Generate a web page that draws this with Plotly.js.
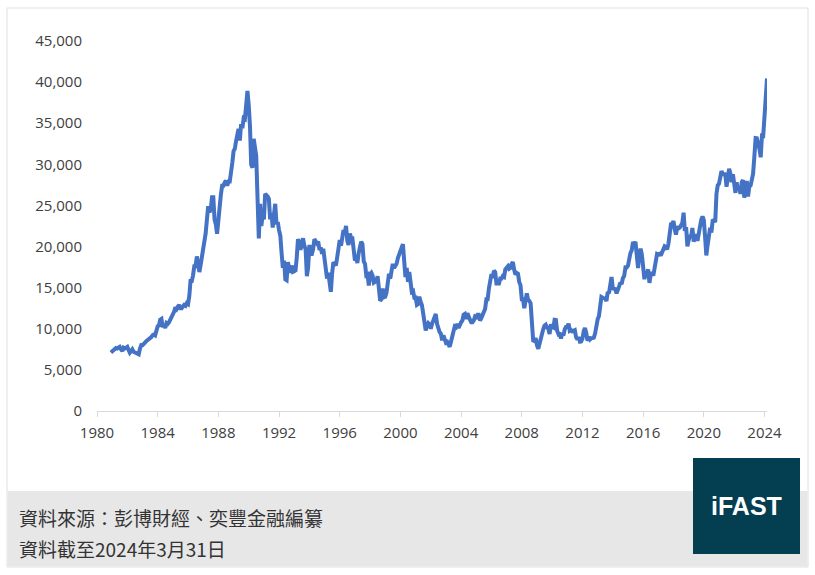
<!DOCTYPE html>
<html>
<head>
<meta charset="utf-8">
<script src="https://cdn.plot.ly/plotly-3.0.1.min.js"></script>
<style>
  body { margin: 0; background: #fff; }
  #chart { width: 815px; height: 575px; }
</style>
</head>
<body>
<div id="chart"></div>
<script>
// Nikkei 225, month-end levels (Dec 1980 - Mar 2024)
let firstMonth = [1980, 12];

let nk1980s = [
  7116,
  7300, 7400, 7600, 7650, 7600, 7700, 7800, 7500, 7300, 7700, 7600, 7681,
  7800, 7400, 7100, 7300, 7500, 7200, 7100, 7000, 6950, 6900, 7600, 8017,
  8000, 8100, 8300, 8500, 8600, 8700, 8900, 9000, 9200, 9300, 9200, 9894,
  10300, 10400, 11100, 11200, 10200, 10500, 10100, 10700, 10600, 10800, 11100, 11543,
  11900, 12100, 12600, 12400, 12700, 12900, 12500, 12500, 12700, 12900, 12800, 13113,
  13000, 14000, 15800, 15800, 16500, 17600, 17600, 18800, 17800, 16900, 17800, 18701,
  20000, 20800, 21600, 23300, 24900, 24200, 24500, 26000, 26000, 23300, 22700, 21564,
  23600, 24900, 26300, 27400, 27400, 27800, 28000, 27400, 27900, 27900, 29600, 30159,
  31600, 31900, 32800, 33700, 34300, 32900, 34900, 34400, 35600, 35500, 37300, 38916
];

let nk1990s = [
  37200, 34600, 29980, 29600, 33100, 31900, 31000, 25900, 20984, 25200, 22500, 23849,
  23300, 26400, 26300, 26100, 25800, 23300, 24100, 22300, 23900, 25200, 22700, 22984,
  22000, 21300, 19300, 17400, 18300, 16000, 15900, 18100, 17400, 16800, 17700, 16925,
  17000, 17100, 18600, 20900, 20500, 19600, 20400, 21000, 20100, 19700, 16400, 17417,
  20200, 19100, 19100, 19700, 20900, 20600, 20400, 20600, 19600, 19900, 19100, 19723,
  18600, 17000, 16100, 16800, 15400, 14500, 16700, 18100, 17900, 17700, 18700, 19868,
  20800, 20100, 21400, 22000, 21700, 22500, 20700, 20200, 21600, 21000, 21000, 19361,
  18300, 18600, 18000, 19200, 20100, 20600, 20300, 18200, 17900, 16500, 16600, 15259,
  16600, 16800, 16500, 15600, 15700, 15800, 16400, 14100, 13400, 13600, 14900, 13842,
  13900, 14400, 15800, 16700, 16100, 17500, 17900, 17400, 17600, 17900, 18600, 18934
];

let nk2000s = [
  19500, 19900, 20300, 17900, 16300, 17400, 15700, 16900, 15700, 14500, 14600, 13786,
  13800, 12900, 13000, 13900, 13300, 12900, 11900, 10700, 9800, 10400, 10700, 10543,
  10000, 10600, 11000, 11500, 11800, 10600, 10000, 9600, 9400, 8600, 9200, 8579,
  8300, 8400, 7970, 7800, 8400, 9100, 9600, 10300, 10200, 10600, 10100, 10677,
  10800, 11000, 11700, 11800, 11200, 11900, 11300, 11100, 10800, 10800, 11000, 11489,
  11400, 11700, 11700, 11000, 11300, 11600, 11900, 12400, 13600, 13600, 14900, 16111,
  16650, 16200, 17060, 16900, 15500, 15500, 15500, 16100, 16100, 16400, 16300, 17226,
  17400, 17600, 17300, 17400, 17900, 18100, 17200, 16600, 16800, 16700, 15700, 15308,
  13600, 13600, 12500, 13800, 14300, 13500, 13400, 13100, 11300, 8580, 8510, 8860,
  7990, 7570, 8110, 8830, 9520, 9960, 10360, 10490, 10130, 10030, 9350, 10550
];

let nk2010s = [
  10200, 10130, 11090, 11060, 9770, 9380, 9540, 8820, 9370, 9200, 9940, 10230,
  10240, 10620, 9760, 9850, 9690, 9820, 9830, 8960, 8700, 8990, 8430, 8460,
  8800, 9720, 10080, 9520, 8540, 9010, 8700, 8840, 8870, 8930, 9450, 10400,
  11140, 11560, 12400, 13860, 13770, 13680, 13670, 13390, 14460, 14330, 15660, 16290,
  14910, 14840, 14830, 14300, 14630, 15160, 15620, 15420, 16170, 16410, 17460, 17450,
  17670, 18800, 19210, 19520, 20560, 20240, 20590, 18890, 17390, 19080, 19750, 19030,
  17520, 16030, 16760, 16670, 17230, 15580, 16570, 16890, 16450, 17430, 18310, 19110,
  19040, 19120, 18910, 19200, 19650, 20030, 19930, 19650, 20360, 22010, 22720, 22760,
  23100, 22070, 21450, 22470, 22200, 22300, 22550, 22870, 24120, 21920, 22350, 20010,
  20770, 21390, 21210, 22260, 20600, 21280, 21520, 20700, 21760, 22930, 23290, 23660
];

let nk2020s = [
  23210, 21140, 18920, 20190, 21880, 22290, 21710, 23140, 23190, 22980, 26430, 27440,
  27660, 28970, 29180, 28810, 28860, 28790, 27280, 28090, 29450, 28890, 27820, 28790,
  27000, 26530, 27820, 26850, 27280, 26390, 27800, 28090, 25940, 27590, 27970, 26090,
  27330, 27450, 28040, 28860, 30890, 33190, 33170, 32620, 31860, 30860, 33490, 33460,
  36290, 39170, 40450
];

let yTicks = [0, 5000, 10000, 15000, 20000, 25000, 30000, 35000, 40000, 45000];
let sourceText = '資料來源：彭博財經、奕豐金融編纂';
let asOfText = '資料截至2024年3月31日';
let logoText = 'iFAST';

let levels = nk1980s.concat(nk1990s, nk2000s, nk2010s, nk2020s);

// one date per month, starting at firstMonth
let dates = [];
let [yr, mo] = firstMonth;
for (let i = 0; i < levels.length; i++) {
  dates.push(yr + '-' + String(mo).padStart(2, '0') + '-01');
  mo++;
  if (mo > 12) { mo = 1; yr++; }
}

// plot area in pixels: left 97, right 767, top 41, bottom 411
function px(x) { return (x - 97) / 670; }
function py(y) { return (411 - y) / 370; }

let trace = {
  x: dates,
  y: levels,
  type: 'scatter',
  mode: 'lines',
  line: { color: '#4472C4', width: 4 },
  hoverinfo: 'skip',
  cliponaxis: false
};

let tickFont = { family: 'Open Sans, Noto Sans, sans-serif', size: 15, color: '#404040' };
let cjk = 'Noto Sans CJK TC, sans-serif';

let layout = {
  width: 815,
  height: 575,
  margin: { l: 97, r: 48, t: 41, b: 164 },
  paper_bgcolor: '#ffffff',
  plot_bgcolor: '#ffffff',
  showlegend: false,
  xaxis: {
    type: 'date',
    range: ['1980-01-01', '2024-03-01'],
    tick0: '1980-01-01',
    dtick: 'M48',
    tickformat: '%Y',
    ticks: 'outside',
    ticklen: 5,
    tickcolor: '#d9d9d9',
    showline: true,
    linecolor: '#d9d9d9',
    linewidth: 1,
    showgrid: false,
    zeroline: false,
    tickfont: tickFont,
    ticklabelstandoff: 3,
    fixedrange: true
  },
  yaxis: {
    range: [0, 45000],
    tickvals: yTicks,
    tickformat: ',d',
    showgrid: false,
    zeroline: false,
    showline: false,
    tickfont: tickFont,
    ticklabelstandoff: 14,
    fixedrange: true
  },
  shapes: [
    { type: 'rect', xref: 'paper', yref: 'paper',
      x0: px(7), x1: px(808), y0: py(8), y1: py(567),
      line: { color: '#e0e0e0', width: 1 }, fillcolor: 'rgba(0,0,0,0)', layer: 'below' },
    { type: 'rect', xref: 'paper', yref: 'paper',
      x0: px(7.5), x1: px(807.5), y0: py(491), y1: py(566.5),
      line: { width: 0 }, fillcolor: '#e7e7e7' },
    { type: 'rect', xref: 'paper', yref: 'paper',
      x0: px(693), x1: px(800), y0: py(458), y1: py(554),
      line: { width: 0 }, fillcolor: '#033f50' }
  ],
  annotations: [
    { xref: 'paper', yref: 'paper', x: px(17), y: py(517), xanchor: 'left', yanchor: 'middle',
      text: sourceText, showarrow: false, font: { family: cjk, size: 19, color: '#333333' } },
    { xref: 'paper', yref: 'paper', x: px(17), y: py(548), xanchor: 'left', yanchor: 'middle',
      text: asOfText, showarrow: false, font: { family: cjk, size: 19, color: '#333333' } },
    { xref: 'paper', yref: 'paper', x: px(746.5), y: py(506), xanchor: 'center', yanchor: 'middle',
      text: '<b>' + logoText + '</b>', showarrow: false,
      font: { family: 'Liberation Sans, Arial, sans-serif', size: 25, color: '#ffffff' } }
  ]
};

Plotly.newPlot('chart', [trace], layout, { displayModeBar: false, staticPlot: true });
</script>
</body>
</html>
